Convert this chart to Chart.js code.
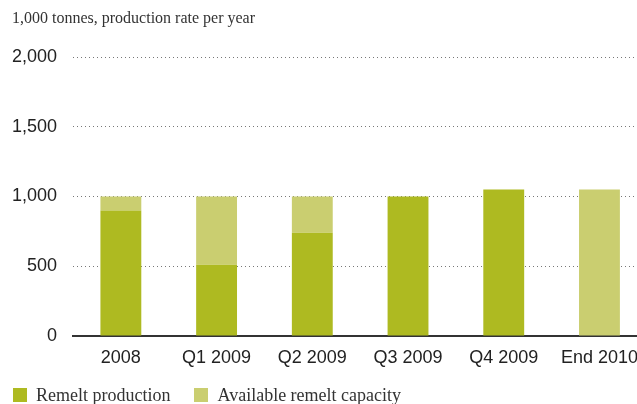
<!DOCTYPE html>
<html>
<head>
<meta charset="utf-8">
<script src="https://cdn.jsdelivr.net/npm/chart.js@4/dist/chart.umd.min.js"></script>
<style>
  html, body { margin: 0; padding: 0; background: #fff; overflow: hidden; width: 637px; height: 404px; }
  #wrap { position: relative; width: 637px; height: 404px; overflow: hidden; }
  #myChart { position: absolute; left: 0; top: 0; }
  #title { position: absolute; left: 12px; top: 9px; font: 16px "Liberation Serif", serif; color: #333; }
  #legend { position: absolute; left: 13px; top: 385px; font: 18px "Liberation Serif", serif; color: #333; white-space: nowrap; }
  .item { display: inline-block; margin-right: 24px; }
  .box { display: inline-block; width: 14px; height: 14px; vertical-align: -1px; margin-right: 9px; }
</style>
</head>
<body>
<div id="wrap">
  <canvas id="myChart" width="649" height="404"></canvas>
  <div id="title">1,000 tonnes, production rate per year</div>
  <div id="legend"></div>
</div>
<script>
// data
let labels = ["2008", "Q1 2009", "Q2 2009", "Q3 2009", "Q4 2009", "End 2010"];
let production = [900, 510, 740, 1000, 1050, 0];
let capacity = [100, 490, 260, 0, 0, 1050];
let yTicks = [0, 500, 1000, 1500, 2000];

let seriesNames = ["Remelt production", "Available remelt capacity"];
let colors = ["#AEBA21", "#CACE70"];

const ctx = document.getElementById("myChart").getContext("2d");
const myChart = new Chart(ctx, {
    type: "bar",
    data: {
        labels: labels,
        datasets: [
            {
                label: seriesNames[0],
                data: production,
                backgroundColor: colors[0],
                barPercentage: 0.427,
                categoryPercentage: 1
            },
            {
                label: seriesNames[1],
                data: capacity,
                backgroundColor: colors[1],
                barPercentage: 0.427,
                categoryPercentage: 1
            }
        ]
    },
    options: {
        responsive: false,
        animation: false,
        layout: { padding: { top: 57, bottom: 24, left: 0, right: 0 } },
        plugins: {
            legend: { display: false },
            tooltip: { enabled: false }
        },
        scales: {
            x: {
                stacked: true,
                grid: { display: false, drawTicks: false },
                border: { display: true, color: "#333", width: 2 },
                ticks: { color: "#222", padding: 11, font: { family: "Liberation Sans", size: 18 } },
                afterFit: function (scale) { scale.height = 44; }
            },
            y: {
                stacked: true,
                min: yTicks[0],
                max: yTicks[yTicks.length - 1],
                afterBuildTicks: function (scale) {
                    scale.ticks = yTicks.map(v => ({ value: v }));
                },
                grid: {
                    drawTicks: false,
                    color: "#777",
                    lineWidth: 1
                },
                border: { display: false, dash: [1, 3] },
                ticks: {
                    color: "#222",
                    padding: 16,
                    font: { family: "Liberation Sans", size: 18 },
                    callback: function (v) { return v.toLocaleString("en-US"); }
                },
                afterFit: function (scale) { scale.width = 73; }
            }
        }
    }
});

// legend
let legendHtml = "";
for (let i = 0; i < seriesNames.length; i++) {
    legendHtml += '<span class="item"><span class="box" style="background:' + colors[i] + '"></span>' + seriesNames[i] + '</span>';
}
document.getElementById("legend").innerHTML = legendHtml;
</script>
</body>
</html>
